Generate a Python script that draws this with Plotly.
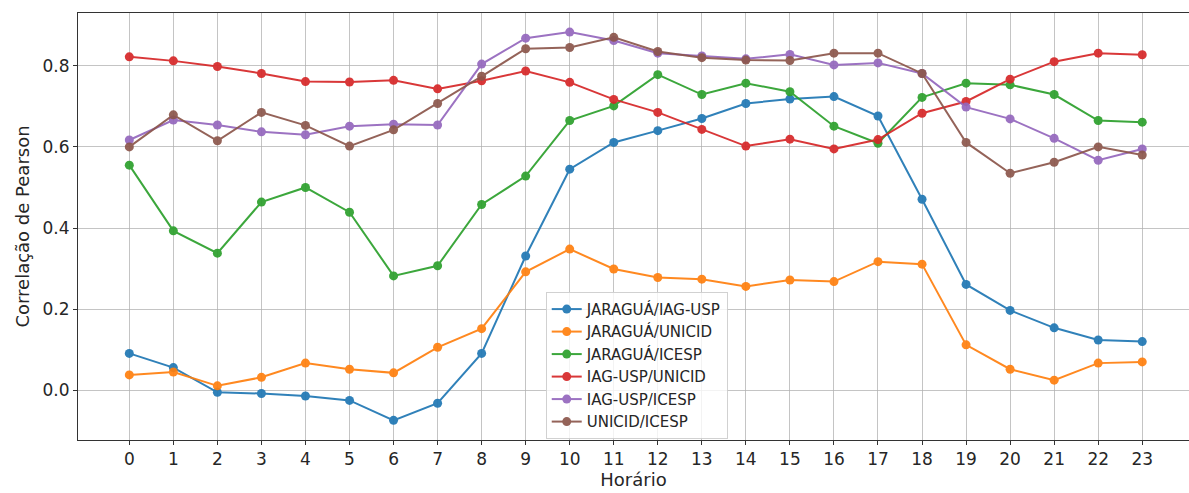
import plotly.graph_objects as go

# Hourly Pearson correlation between station pairs
hours = list(range(24))

jaragua_iag = [0.091, 0.056, -0.005, -0.008, -0.014, -0.025, -0.074, -0.032,
               0.091, 0.331, 0.545, 0.611, 0.640, 0.670, 0.707, 0.718,
               0.724, 0.676, 0.471, 0.261, 0.197, 0.154, 0.124, 0.120]
jaragua_unicid = [0.038, 0.045, 0.011, 0.032, 0.067, 0.052, 0.043, 0.106,
                  0.152, 0.292, 0.348, 0.299, 0.278, 0.274, 0.256, 0.272,
                  0.268, 0.317, 0.311, 0.112, 0.052, 0.025, 0.067, 0.070]
jaragua_icesp = [0.555, 0.393, 0.338, 0.464, 0.500, 0.439, 0.282, 0.307,
                 0.458, 0.528, 0.665, 0.701, 0.778, 0.729, 0.757, 0.736,
                 0.651, 0.609, 0.722, 0.757, 0.753, 0.729, 0.665, 0.661]
iag_unicid = [0.822, 0.812, 0.798, 0.781, 0.761, 0.760, 0.764, 0.743,
              0.763, 0.787, 0.759, 0.717, 0.685, 0.643, 0.602, 0.619,
              0.595, 0.618, 0.683, 0.712, 0.767, 0.810, 0.831, 0.827]
iag_icesp = [0.617, 0.666, 0.654, 0.637, 0.630, 0.651, 0.656, 0.654,
             0.804, 0.868, 0.883, 0.862, 0.831, 0.824, 0.817, 0.828,
             0.802, 0.807, 0.781, 0.698, 0.669, 0.621, 0.567, 0.595]
unicid_icesp = [0.600, 0.679, 0.615, 0.685, 0.653, 0.602, 0.642, 0.707,
                0.774, 0.842, 0.845, 0.870, 0.835, 0.820, 0.814, 0.813,
                0.831, 0.831, 0.781, 0.611, 0.535, 0.562, 0.600, 0.580]

series_names = ["JARAGUÁ/IAG-USP", "JARAGUÁ/UNICID", "JARAGUÁ/ICESP",
                "IAG-USP/UNICID", "IAG-USP/ICESP", "UNICID/ICESP"]
series_values = [jaragua_iag, jaragua_unicid, jaragua_icesp,
                 iag_unicid, iag_icesp, unicid_icesp]
colors = ["#1f77b4", "#ff7f0e", "#2ca02c", "#d62728", "#9467bd", "#8c564b"]

fig = go.Figure()
for name, vals, col in zip(series_names, series_values, colors):
    fig.add_trace(go.Scatter(
        x=hours, y=vals, name=name, legendgroup=name,
        mode="lines+markers",
        line=dict(color=col, width=2),
        marker=dict(color=col, size=9),
        opacity=0.92,
    ))

tick_font = dict(family="DejaVu Sans", size=17, color="#262626")
title_font = dict(family="DejaVu Sans", size=18, color="#262626")
grid_col = "rgba(176,176,176,0.75)"

fig.update_layout(
    width=1189, height=493,
    margin=dict(l=78, r=0, t=13, b=53),
    paper_bgcolor="white", plot_bgcolor="white",
    font=dict(family="DejaVu Sans", color="#262626"),
    showlegend=True,
    legend=dict(
        x=0.421, y=0.347, xanchor="left", yanchor="top",
        bgcolor="rgba(255,255,255,0.8)",
        bordercolor="rgba(204,204,204,0.9)", borderwidth=1,
        font=dict(family="DejaVu Sans", size=15, color="#262626"),
        tracegroupgap=0,
    ),
    xaxis=dict(
        range=[-1.165, 24.062],
        tickmode="array", tickvals=hours, ticktext=[str(h) for h in hours],
        tickfont=tick_font,
        showgrid=True, gridcolor=grid_col, gridwidth=1,
        zeroline=False,
        showline=True, linecolor="#333333", linewidth=1, mirror=True,
        ticks="outside", ticklen=4, tickcolor="#333333",
        title=dict(text="Horário", font=title_font, standoff=4),
    ),
    yaxis=dict(
        range=[-0.1225, 0.93],
        tickmode="array", tickvals=[0.0, 0.2, 0.4, 0.6, 0.8],
        ticktext=["0.0", "0.2", "0.4", "0.6", "0.8"],
        tickfont=tick_font,
        showgrid=True, gridcolor=grid_col, gridwidth=1,
        zeroline=False,
        showline=True, linecolor="#333333", linewidth=1,
        ticks="outside", ticklen=4, tickcolor="#333333",
        title=dict(text="Correlação de Pearson", font=title_font, standoff=8),
    ),
)

fig.write_html("out.html")
